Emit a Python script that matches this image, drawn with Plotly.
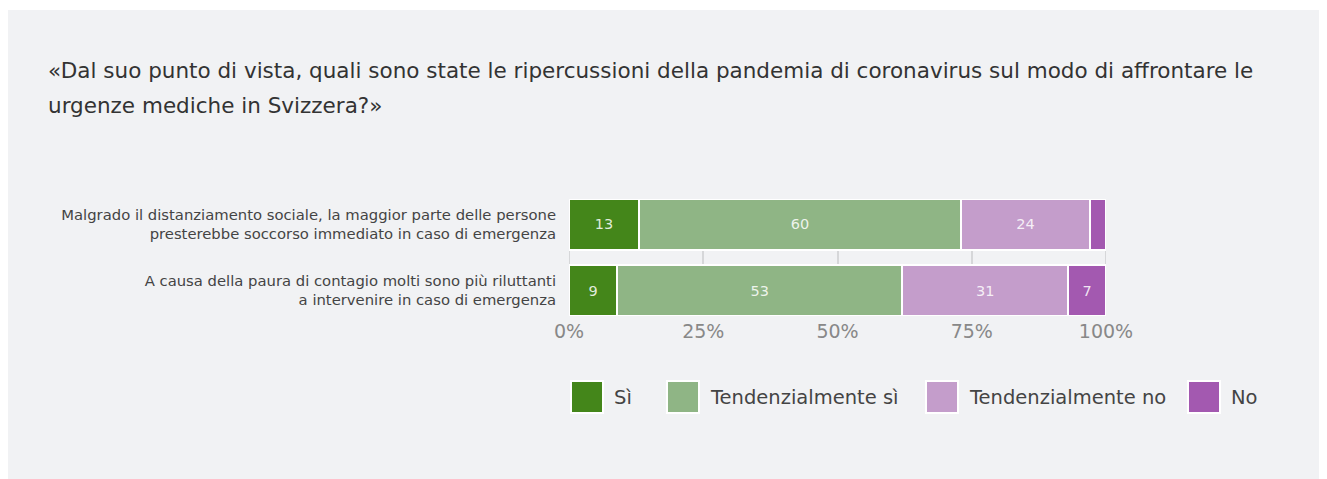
import plotly.graph_objects as go

categories = [
    "Malgrado il distanziamento sociale, la maggior parte delle persone<br>presterebbe soccorso immediato in caso di emergenza",
    "A causa della paura di contagio molti sono più riluttanti<br>a intervenire in caso di emergenza",
]
series_names = ["Sì", "Tendenzialmente sì", "Tendenzialmente no", "No"]
series_values = [
    [13, 9],
    [60, 53],
    [24, 31],
    [3, 7],
]
colors = ["#44861a", "#8fb585", "#c49dcb", "#a359b0"]
x_ticks = [0, 25, 50, 75, 100]
x_tick_labels = ["0%", "25%", "50%", "75%", "100%"]
title_lines = [
    "«Dal suo punto di vista, quali sono state le ripercussioni della pandemia di coronavirus sul modo di affrontare le",
    "urgenze mediche in Svizzera?»",
]

OFF = 8  # page body margin
VW, VH = 1327, 479
W, H = VW - OFF, VH - OFF
L, R = 569, 1106     # viewport coords of plot area
T, B = 199, 316
BG = "#f1f2f4"
GRID = "#d6d7d9"
FONT = "DejaVu Sans"

fig = go.Figure()
for name, vals, col in zip(series_names, series_values, colors):
    fig.add_trace(go.Bar(
        y=categories, x=vals, name=name, orientation="h",
        marker=dict(color=col, line=dict(color="white", width=2)),
        text=[str(v) if v >= 5 else "" for v in vals],
        textposition="inside", insidetextanchor="middle", textangle=0,
        textfont=dict(family=FONT, size=14.5, color="rgba(255,255,255,0.85)"),
        hoverinfo="x+name", showlegend=False,
    ))

def px_x(p):
    return (p - L) / (R - L)

def px_y(p):
    return (B - p) / (B - T)

shapes = [
    dict(type="rect", xref="paper", yref="paper", x0=px_x(0), x1=px_x(VW + 20), y0=px_y(10), y1=px_y(0),
         fillcolor="white", line=dict(width=0), layer="below"),
]
# gridlines at the range edges (plotly omits them)
for xv in (x_ticks[0], x_ticks[-1]):
    shapes.append(dict(type="line", xref="x", yref="paper", x0=xv, x1=xv, y0=0, y1=1,
                       line=dict(color=GRID, width=2), layer="below"))

annotations = []
for i, line in enumerate(title_lines):
    annotations.append(dict(
        xref="paper", yref="paper", x=px_x(46), y=px_y(70 + 35 * i), xanchor="left", yanchor="middle",
        text=line, showarrow=False, font=dict(family=FONT, size=21.5, color="#333333"),
    ))

legend_sq_x = [571, 667, 926, 1188]
for name, col, sx in zip(series_names, colors, legend_sq_x):
    shapes.append(dict(type="rect", xref="paper", yref="paper",
                       x0=px_x(sx - 1), x1=px_x(sx + 33), y0=px_y(414), y1=px_y(380),
                       fillcolor="white", line=dict(width=0)))
    shapes.append(dict(type="rect", xref="paper", yref="paper",
                       x0=px_x(sx + 1), x1=px_x(sx + 31), y0=px_y(412), y1=px_y(382),
                       fillcolor=col, line=dict(width=0)))
    annotations.append(dict(
        xref="paper", yref="paper", x=px_x(sx + 41), y=px_y(397), xanchor="left", yanchor="middle",
        text=name, showarrow=False, font=dict(family=FONT, size=19.5, color="#444444"),
    ))

fig.update_layout(
    width=W, height=H,
    margin=dict(l=L - OFF, r=W - (R - OFF), t=T - OFF, b=H - (B - OFF), pad=0),
    paper_bgcolor=BG, plot_bgcolor=BG,
    barmode="stack", bargap=0.23,
    shapes=shapes, annotations=annotations,
    font=dict(family=FONT),
    xaxis=dict(range=[0, 100], tickvals=x_ticks, ticktext=x_tick_labels,
               showgrid=True, gridcolor=GRID, gridwidth=2, zeroline=False,
               ticklabelstandoff=2,
               tickfont=dict(family=FONT, size=19, color="#888888"), fixedrange=True),
    yaxis=dict(range=[1.385, -0.385], showgrid=False, ticks="", ticklabelstandoff=12,
               tickfont=dict(family=FONT, size=14.8, color="#444444"), fixedrange=True),
)

fig.write_html("out.html")
